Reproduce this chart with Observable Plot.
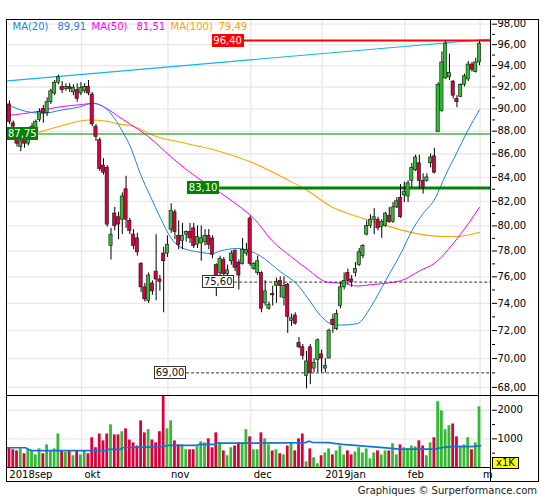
<!DOCTYPE html>
<html><head><meta charset="utf-8">
<script src="https://cdn.jsdelivr.net/npm/d3@7"></script>
<script src="https://cdn.jsdelivr.net/npm/@observablehq/plot@0.6"></script>
<style>
body{margin:0;background:#fff;font-family:"DejaVu Sans",sans-serif;}
#wrap{position:relative;width:545px;height:500px;overflow:hidden;background:#fff;}
.ov{position:absolute;pointer-events:none;box-sizing:border-box;}
</style></head><body><div id="wrap"></div>
<script>
// ---- data (trading-day index i = 0 .. 125, 2018-09-03 .. 2019-02-28) ----
const opens = [90.4,88.7,87.6,86.6,87.4,86.9,87.9,88.3,89.0,90.0,89.6,90.6,91.4,92.4,92.0,91.8,92.0,91.5,91.7,91.4,
91.6,92.0,91.3,88.4,87.2,85.0,84.8,78.4,81.0,80.7,80.5,83.0,80.4,79.3,79.0,77.0,75.2,74.2,75.5,76.4,75.8,77.8,77.8,
79.7,81.1,79.2,78.8,79.3,79.5,79.8,78.5,78.6,78.7,79.2,79.0,76.9,76.3,77.3,76.2,77.2,78.0,77.1,77.0,77.8,80.6,
76.6,76.3,76.3,74.0,73.6,74.7,75.3,75.7,74.4,75.4,72.7,73.1,71.1,70.8,68.8,70.8,69.3,69.9,70.3,
69.3,70.0,72.8,72.1,73.8,75.2,76.3,75.8,76.3,76.9,77.6,79.3,80.0,80.5,80.5,79.9,80.0,80.8,80.3,81.5,82.3,82.5,
82.4,83.7,84.6,85.2,83.7,83.7,85.2,85.8,87.9,89.8,92.8,92.9,92.5,90.9,91.1,92.2,92.7,94.1,93.4,94.3];
const highs = [90.7,88.9,87.9,87.4,87.6,87.9,88.7,89.0,90.0,90.3,91.0,91.8,92.6,93.1,92.5,92.3,92.3,92.2,92.3,92.4,
92.3,92.6,91.5,88.6,87.4,85.6,85.0,79.8,81.5,81.1,82.7,84.1,80.6,79.7,79.4,77.1,75.5,76.3,75.7,79.3,76.1,78.3,79.2,
81.8,81.3,80.4,80.2,79.6,80.2,80.2,80.0,80.0,79.7,79.7,79.2,77.0,77.6,77.5,76.9,78.0,78.1,77.3,79.0,78.6,80.8,
77.1,77.6,76.4,75.7,74.1,75.3,75.9,76.0,76.0,75.5,73.2,73.3,71.5,71.0,70.5,71.0,70.0,71.4,70.6,
70.0,72.1,73.2,73.5,75.6,76.3,76.6,76.1,77.1,78.2,78.5,80.4,80.9,81.4,80.7,80.5,81.1,81.5,81.9,82.3,83.4,83.6,
83.7,85.2,85.9,85.9,84.3,84.3,86.0,86.5,92.4,95.3,96.4,95.1,92.6,91.2,92.3,93.2,94.4,94.3,94.7,96.3];
const lows = [88.6,88.2,86.6,86.2,86.5,86.7,87.7,88.0,88.8,88.7,89.3,90.4,91.2,92.2,91.4,91.6,91.5,91.2,90.6,91.2,
91.4,91.2,88.4,87.1,84.5,84.2,79.9,77.3,79.6,78.9,79.3,79.8,79.3,78.1,77.6,74.8,74.1,74.0,74.6,74.2,74.9,73.3,77.5,
79.4,78.9,78.1,78.1,78.7,78.6,78.2,78.2,77.2,78.4,78.1,77.4,74.5,75.9,76.0,75.8,76.9,76.4,75.0,76.9,77.6,76.8,
76.5,76.1,73.3,73.8,73.5,73.8,74.0,74.4,73.8,71.8,72.3,72.4,70.7,69.9,67.9,68.2,69.0,69.0,69.0,
69.0,70.0,71.8,72.0,73.6,75.0,75.4,75.2,76.0,76.8,77.4,79.2,79.8,79.3,79.6,79.0,79.9,80.2,80.2,81.4,80.6,81.9,
81.9,83.1,84.5,83.0,82.6,83.6,84.8,84.3,87.9,89.7,92.7,92.6,90.9,90.1,91.0,92.0,92.5,93.4,93.3,94.0];
const closes = [88.8,88.4,86.9,87.1,86.9,87.6,88.4,88.8,89.7,89.6,90.6,91.6,92.4,92.9,91.7,92.0,91.8,91.9,90.9,91.9,
92.0,91.4,88.6,87.5,84.7,84.4,80.1,79.3,80.0,80.1,82.4,80.5,79.6,78.4,77.9,75.2,74.3,76.1,74.9,75.8,75.6,77.2,78.5,
81.2,79.5,78.5,79.2,79.5,79.0,78.4,79.1,79.0,79.2,78.5,77.7,76.0,77.4,76.2,76.5,77.8,76.7,76.1,78.1,78.1,77.0,
77.0,77.2,73.6,74.9,73.9,74.6,75.6,75.3,75.3,73.0,72.9,72.5,70.8,70.2,69.8,69.0,69.7,71.3,70.0,
69.5,72.0,72.4,73.2,75.2,75.7,75.7,75.6,76.6,77.9,78.4,80.0,80.5,80.7,79.8,80.3,81.0,80.3,81.5,82.0,80.7,82.8,
83.5,84.8,85.7,83.7,83.1,84.0,85.7,84.4,92.2,94.3,96.1,93.3,91.2,90.6,92.2,93.0,94.1,93.6,94.3,96.1];
const volumes = [690,620,580,650,480,650,590,440,650,480,790,590,650,1170,570,530,590,410,590,440,
590,480,1040,690,1170,930,1170,1490,1140,1140,1250,1350,960,860,750,1630,1210,1320,960,860,1250,2700,1350,
1630,930,790,790,620,620,620,720,900,860,1000,690,1210,860,580,410,690,750,860,860,1320,1070,
620,620,1210,1000,790,580,620,480,440,750,860,580,1000,1170,200,650,340,130,410,
510,650,440,580,750,440,580,440,540,690,510,650,300,510,580,440,580,580,830,440,790,690,
650,750,720,930,750,410,860,1040,2300,1980,1320,1460,1520,1070,690,790,1040,620,860,2120];

const monthLabels = ["2018sep","okt","nov","dec","2019jan","feb","m"];
const monthStart = [0,20,43,65,84,106,126];

const priceTicks = [68,70,72,74,76,78,80,82,84,86,88,90,92,94,96,98];
const priceMinor = [69,71,73,75,77,79,81,83,85,87,89,91,93,95,97];
const volTicks = [1000,2000];
const volMinor = [500,1500];

const maLabels = ["MA(20)","MA(50)","MA(100)"];
const maLast = [89.91,81.51,79.49];

const ma20Idx = [-0.53,4,9,14,19,22,25,28,30,32.2,34.8,37.5,40.2,42.8,45.5,50.8,53.9,56,60.6,64,66.8,72,76.6,79.3,82.7,85.4,88,92.5,96,100,104.4,107,110,113.3,114.6,116,118.8,121.8,125];
const ma20Val = [90.4,89.8,89.6,89.9,90.2,90.5,90.2,89.1,88.0,86.6,84.3,82.4,80.6,79.1,78.3,77.9,77.8,78.0,78.2,78.0,77.6,76.4,75.4,74.4,73.1,72.5,72.4,72.5,73.7,75.7,78.0,79.6,81.0,82.3,83.2,84.2,86.0,88.0,89.91];
const ma50Idx = [-0.53,8,12,19.5,22.4,25.5,29,32.2,36.6,42.8,47.3,51.7,56.1,60.6,65,69.9,74.7,79.2,84.5,88.9,92.5,96,104,109.3,112.8,119.1,125];
const ma50Val = [89.4,89.8,90.1,90.4,90.5,90.1,89.3,88.6,87.6,85.8,84.6,83.6,82.7,81.7,80.6,78.8,77.6,76.6,75.6,75.5,75.3,75.4,75.7,76.5,77.0,79.0,81.51];
const ma100Idx = [-0.53,7.7,14,21.1,25.5,29.5,32.2,38.4,47.3,56.1,65,73.9,79.2,85.4,92,97.3,102.7,108,112.4,116,119,125];
const ma100Val = [87.6,87.9,88.5,89.0,88.9,88.6,88.5,87.6,86.9,86.2,85.2,83.8,82.9,81.6,80.8,80.3,79.8,79.4,79.2,79.15,79.15,79.49];

const volMaIdx = [-0.53,4.3,5.1,6,25.5,26,29.5,30,35.3,40.6,42,50,50.4,54.8,55.2,64,78.7,79.6,80.5,85,85.8,88.5,91.1,95.1,97.8,100.9,103.5,113.3,114.2,116,118.6,123,125.3];
const volMaVal = [690,690,630,590,590,630,630,690,710,720,770,770,810,810,850,850,870,920,880,870,850,810,780,740,710,680,640,640,680,710,740,730,760];

const trendIdx = [-0.53,128.19];
const trendVal = [92.57,96.55];

const levelValues = [96.40,87.75,83.10,75.60,69.00];
const levelFrom = [62.4,7.8,55.9,59.9,47.1];
const levelKind = ["red","green","greenBold","dash","dash"];

// ---- tables ----
const candles = opens.map((o,i)=>({i,open:o,high:highs[i],low:lows[i],close:closes[i],volume:volumes[i]}));
const months = monthLabels.map((label,k)=>({label,start:monthStart[k]}));
const toPts = (idx,val)=>idx.map((x,k)=>({x,y:val[k]}));
const ma20 = toPts(ma20Idx,ma20Val), ma50 = toPts(ma50Idx,ma50Val), ma100 = toPts(ma100Idx,ma100Val);
const volMa = toPts(volMaIdx,volMaVal);
const trend = toPts(trendIdx,trendVal);
const levels = levelValues.map((v,k)=>({value:v,from:levelFrom[k],kind:levelKind[k]}));

const fmt = v => v.toFixed(2).replace(".", ",");
const GREEN = "#35b935", RED = "#d9003d";
const C20 = "#1f82e0", C50 = "#ff00ff", C100 = "#ffa500";
const up = d => d.close >= d.open;
const XD = [-0.53,128.19];
const gridC = "#e8e8e8";
const baseStyle = {fontFamily:"DejaVu Sans", fontSize:"10px", color:"#000", background:"transparent", overflow:"visible"};

const levelStyle = {
  red:{stroke:"#ff0000",w:2,dash:null,bg:"#ff0000",fg:"#fff",border:"none"},
  green:{stroke:"#008000",w:1,dash:null,bg:"#008000",fg:"#fff",border:"none"},
  greenBold:{stroke:"#008000",w:3,dash:null,bg:"#008000",fg:"#fff",border:"none"},
  dash:{stroke:"#333",w:1,dash:"3,2",bg:"#fff",fg:"#111",border:"1px solid #333"}
};

const legendDx = [5,50,84,129,163,211];
const legendColors = [C20,C20,C50,C50,C100,C100];
const legendTexts = [];
maLabels.forEach((l,k)=>{legendTexts.push(l); legendTexts.push(fmt(maLast[k]));});

// right-hand axis: tick marks + labels (labels as text marks on the y scale)
const rightAxis = (major, minor, format) => [
  Plot.axisY(major,{anchor:"right", tickSize:5, tickFormat:()=>"", label:null}),
  Plot.axisY(minor,{anchor:"right", tickSize:3, tickFormat:()=>"", label:null}),
  Plot.text(major,{y:d=>d, text:format, frameAnchor:"right", dx:6, textAnchor:"start", lineAnchor:"middle", fill:"#000", fontSize:10})
];

const main = Plot.plot({
  width:545, height:396, marginLeft:7, marginRight:54, marginTop:20, marginBottom:0,
  style: baseStyle,
  x:{domain:XD, axis:null},
  y:{type:"log", domain:[67.38,98.365], axis:null},
  marks:[
    Plot.ruleY(priceTicks,{stroke:gridC, strokeWidth:1.3}),
    Plot.ruleX(months,{x:d=>d.start-0.85, stroke:gridC, strokeWidth:1.3, clip:true}),
    ...rightAxis(priceTicks, priceMinor, fmt),
    Plot.line(trend,{x:"x", y:"y", stroke:"#12b4ee", strokeWidth:1.1, clip:true}),
    Plot.line(ma100,{x:"x", y:"y", stroke:C100, strokeWidth:1.1, curve:"monotone-x", clip:true}),
    Plot.line(ma50,{x:"x", y:"y", stroke:C50, strokeWidth:1, curve:"monotone-x", clip:true}),
    Plot.line(ma20,{x:"x", y:"y", stroke:C20, strokeWidth:1, curve:"monotone-x", clip:true}),
    ...Object.keys(levelStyle).map(k=>Plot.ruleY(levels.filter(d=>d.kind===k),{
      y:"value", x1:"from", x2:XD[1], stroke:levelStyle[k].stroke, strokeWidth:levelStyle[k].w,
      strokeDasharray:levelStyle[k].dash||undefined, clip:true})),
    Plot.ruleX(candles,{x:"i", y1:"low", y2:"high", stroke:"#000", strokeWidth:1, clip:true}),
    Plot.rect(candles,{x1:d=>d.i-0.43, x2:d=>d.i+0.43, y1:"open", y2:"close",
      fill:d=>up(d)?GREEN:RED, stroke:"#111", strokeWidth:0.6, clip:true}),
    ...legendTexts.map((t,k)=>Plot.text([t],{text:d=>d, frameAnchor:"top-left", dx:legendDx[k], dy:6.5,
      textAnchor:"start", lineAnchor:"middle", fill:legendColors[k], fontSize:10}))
  ]
});

const vol = Plot.plot({
  width:545, height:86, marginLeft:7, marginRight:54, marginTop:0, marginBottom:15,
  style: baseStyle,
  x:{domain:XD, axis:null},
  y:{domain:[0,2480], axis:null},
  marks:[
    Plot.ruleY(volTicks,{stroke:gridC, strokeWidth:1.3}),
    Plot.ruleX(months,{x:d=>d.start-0.85, stroke:gridC, strokeWidth:1.3, clip:true}),
    Plot.rect(candles,{x1:d=>d.i-0.37, x2:d=>d.i+0.37, y1:0, y2:"volume", fill:d=>up(d)?GREEN:RED, clip:true}),
    Plot.line(volMa,{x:"x", y:"y", stroke:"#1572d4", strokeWidth:1.7, clip:true}),
    Plot.ruleY([0],{stroke:"#000", strokeWidth:1}),
    ...rightAxis(volTicks, volMinor, d=>String(d)),
    Plot.text(months,{x:d=>d.start-0.85, text:"label", frameAnchor:"bottom", dy:7.5, dx:3,
      textAnchor:"start", lineAnchor:"middle", fill:"#000", fontSize:10})
  ]
});

const wrap = document.getElementById("wrap");
[[main,0],[vol,396]].forEach(([s,top])=>{
  s.style.position="absolute"; s.style.left="0px"; s.style.top=top+"px";
  wrap.appendChild(s);
});

// level label boxes positioned through the chart's scales
const sx = main.scale("x"), sy = main.scale("y");
levels.forEach(d=>{
  const st = levelStyle[d.kind];
  const right = sx.apply(d.from), cy = sy.apply(d.value);
  const w = 32, h = 13;
  const div = document.createElement("div");
  div.className = "ov";
  Object.assign(div.style,{left:(right-w)+"px", top:(cy-h/2)+"px", width:w+"px", height:h+"px",
    background:st.bg, color:st.fg, border:st.border, font:"10px 'DejaVu Sans'", lineHeight:(st.border==="none"?h:h-2)+"px",
    textAlign:"center"});
  div.textContent = fmt(d.value);
  wrap.appendChild(div);
});

function box(css, text){
  const d = document.createElement("div"); d.className="ov"; Object.assign(d.style, css);
  if (text) d.textContent = text; wrap.appendChild(d); return d;
}
// frame
box({left:"6px", top:"19px", width:"533px", height:"463px", border:"1px solid #000"});
box({left:"6px", top:"395px", width:"533px", height:"1px", background:"#000"});
box({left:"490px", top:"19px", width:"1px", height:"463px", background:"#000"});
// unit badge
box({left:"492px", top:"457px", width:"27px", height:"12px", border:"1px solid #000", background:"#ffff00",
  font:"10px 'DejaVu Sans'", lineHeight:"10px", textAlign:"center", color:"#000"}, "x1K");
// footer
box({right:"8px", top:"485px", font:"10px 'DejaVu Sans'", color:"#222", whiteSpace:"nowrap", lineHeight:"12px"},
  "Graphiques © Surperformance.com");
</script></body></html>
